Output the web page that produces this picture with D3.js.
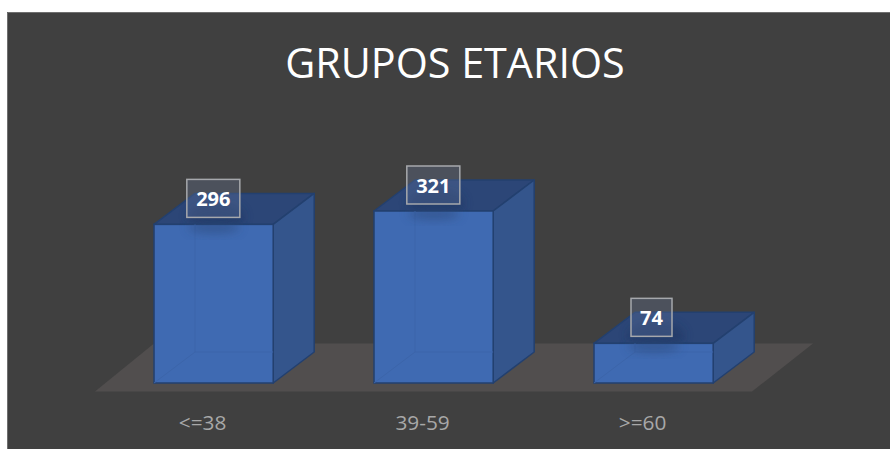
<!DOCTYPE html>
<html><head><meta charset="utf-8">
<script src="https://d3js.org/d3.v7.min.js"></script>
<style>html,body{margin:0;padding:0;background:#fff}svg{display:block}</style>
</head><body><svg id="c" width="890" height="449"></svg>
<script>
const categories = ["<=38","39-59",">=60"];
const values = [296,321,74];
const title = "GRUPOS ETARIOS";
const W=890,H=449;
const svg=d3.select("#c");
const font="'Open Sans','Noto Sans',sans-serif";
const baseY=383, depthX=41, depthY=31;
const x=d3.scaleBand().domain(categories).range([103.6,763.6]).paddingInner(0.4583).paddingOuter(0.2292);
const y=d3.scaleLinear().domain([0,321]).range([baseY,211]);
const defs=svg.append("defs");
const blur=defs.append("filter").attr("id","b").attr("x","-50%").attr("y","-50%").attr("width","200%").attr("height","200%");
blur.append("feGaussianBlur").attr("stdDeviation",5);
svg.append("rect").attr("x",7).attr("y",12).attr("width",W-7).attr("height",H-12).attr("fill","#404040");
svg.append("path").attr("d","M7.5 449V12.5H890").attr("stroke","#6f6f6f").attr("fill","none").attr("stroke-width",1);
svg.append("polygon").attr("points",[[95,391.5],[752,391.5],[813,343.5],[154,343.5]].map(p=>p.join(",")).join(" ")).attr("fill","#514e4e");
svg.append("text").attr("x",455).attr("y",78).attr("text-anchor","middle").attr("fill","#fff").attr("font-family",font).attr("font-size",41.3).text(title);
const g=svg.selectAll("g.bar").data(categories.map((c,i)=>({c,v:values[i]}))).join("g").attr("class","bar");
const stroke="#23406f";
g.each(function(d){
 const s=d3.select(this),x0=x(d.c),x1=x0+x.bandwidth(),yt=y(d.v),yb=baseY;
 s.append("polygon").attr("points",`${x0},${yt} ${x0+depthX},${yt-depthY} ${x1+depthX},${yt-depthY} ${x1},${yt}`).attr("fill","#2c4677").attr("stroke",stroke).attr("stroke-width",1.5).attr("stroke-linejoin","round");
 s.append("ellipse").attr("cx",x0+62).attr("cy",yt-8).attr("rx",28).attr("ry",14).attr("fill","#1f3560").attr("opacity",.55).attr("filter","url(#b)");
 s.append("polygon").attr("points",`${x1},${yt} ${x1+depthX},${yt-depthY} ${x1+depthX},${yb-depthY} ${x1},${yb}`).attr("fill","#34558c").attr("stroke",stroke).attr("stroke-width",1.5).attr("stroke-linejoin","round");
 s.append("rect").attr("x",x0).attr("y",yt).attr("width",x.bandwidth()).attr("height",yb-yt).attr("fill","#3f6ab2").attr("stroke",stroke).attr("stroke-width",1.5);
 s.append("path").attr("d",`M${x0},${yb}L${x0+depthX},${yb-depthY}V${yt}M${x0+depthX},${yb-depthY}H${x1}`).attr("fill","none").attr("stroke","#3c65aa").attr("stroke-width",1);
 s.append("ellipse").attr("cx",x0+60).attr("cy",yt+3).attr("rx",26).attr("ry",6).attr("fill","#2c4677").attr("opacity",.5).attr("filter","url(#b)");
 const bw=d.v<100?41:53,cx=x0+(d.v<100?57.5:59.3);
 const ly=yt-45;
 s.append("rect").attr("x",cx-bw/2).attr("y",ly).attr("width",bw).attr("height",38).attr("fill","#6b7fa5").attr("fill-opacity",.28).attr("stroke","#a6a8ac").attr("stroke-width",1.5);
 s.append("text").attr("x",cx).attr("y",ly+26.5).attr("text-anchor","middle").attr("fill","#fff").attr("font-family",font).attr("font-weight",700).attr("font-size",20).text(d.v);
});
svg.selectAll("text.cat").data(categories).join("text").attr("class","cat").attr("x",d=>x(d)+x.bandwidth()/2-11).attr("y",430).attr("text-anchor","middle").attr("fill","#a8a8a8").attr("font-family",font).attr("font-size",20.8).text(d=>d);
</script></body></html>
